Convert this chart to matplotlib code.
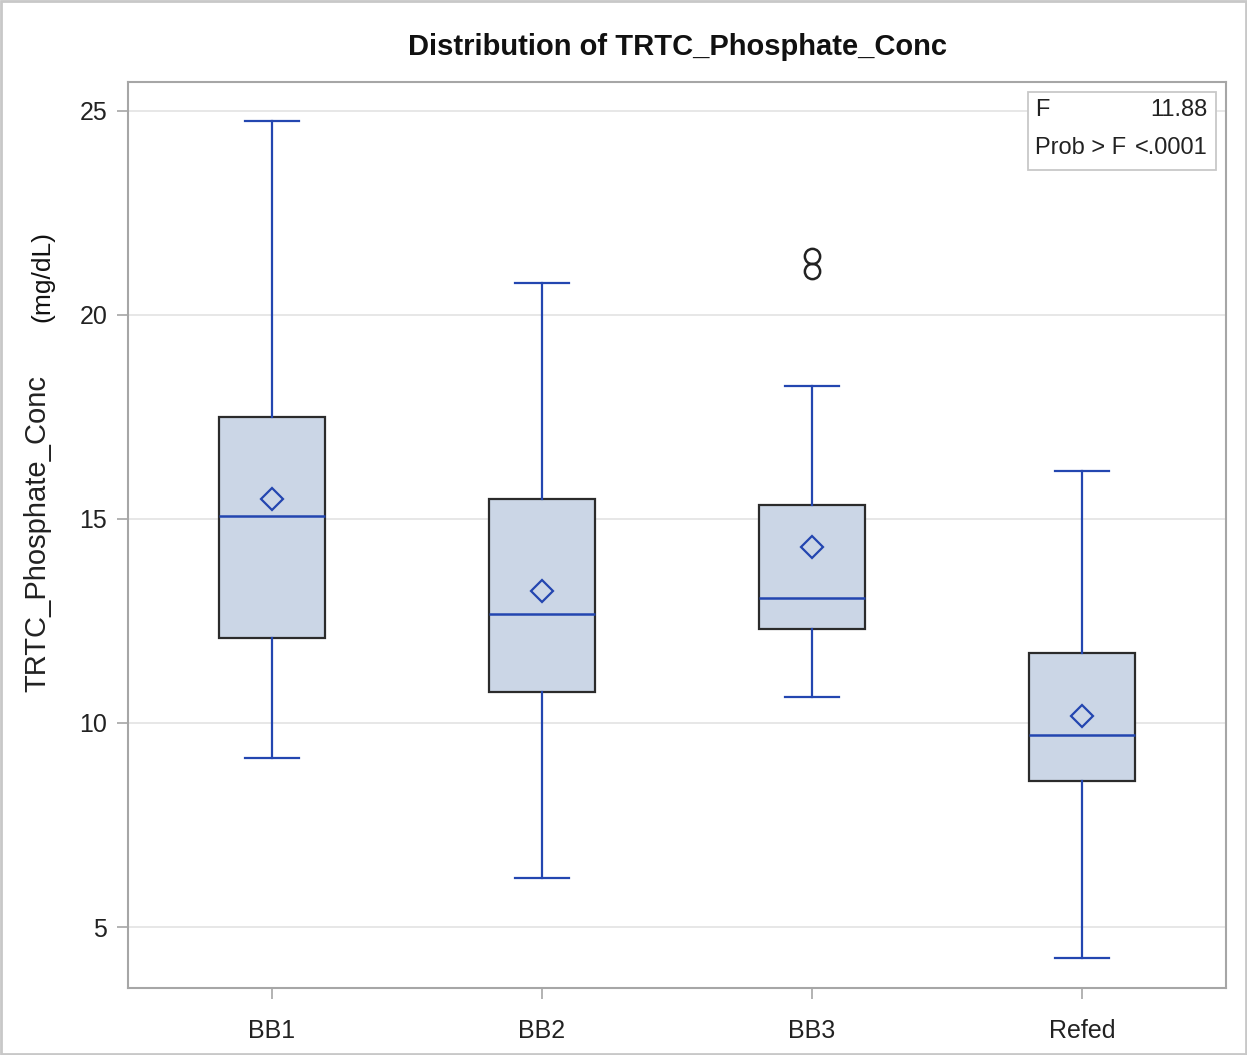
import matplotlib
matplotlib.use("Agg")
import matplotlib.pyplot as plt
from matplotlib.patches import Rectangle

categories = ["BB1", "BB2", "BB3", "Refed"]
whisker_low = [9.14, 6.20, 10.64, 4.24]
q1 = [12.08, 10.76, 12.30, 8.58]
median = [15.07, 12.67, 13.06, 9.71]
q3 = [17.50, 15.49, 15.34, 11.72]
whisker_high = [24.76, 20.78, 18.26, 16.18]
means = [15.49, 13.24, 14.31, 10.17]
outliers = [[], [], [21.08, 21.45], []]
yticks = [5, 10, 15, 20, 25]
f_value = "11.88"
p_value = "<.0001"

FONT = ["Liberation Sans Narrow", "Liberation Sans", "DejaVu Sans"]
plt.rcParams["font.family"] = FONT

fig = plt.figure(figsize=(12.47, 10.55), dpi=100)
ax = fig.add_axes([128/1247, 1-988/1055, (1226-128)/1247, (988-82)/1055])

stats = []
for i, c in enumerate(categories):
    stats.append(dict(label=c, whislo=whisker_low[i], q1=q1[i], med=median[i],
                      q3=q3[i], whishi=whisker_high[i], mean=means[i], fliers=outliers[i]))

blue = "#2346b0"
ax.bxp(stats, positions=range(len(categories)), widths=0.39, patch_artist=True,
       showmeans=True, showfliers=True,
       boxprops=dict(facecolor="#cbd6e6", edgecolor="#2b2b2b", linewidth=1.6),
       medianprops=dict(color=blue, linewidth=1.8),
       whiskerprops=dict(color=blue, linewidth=1.6),
       capprops=dict(color=blue, linewidth=1.6),
       capwidths=0.2,
       meanprops=dict(marker="D", markersize=11, markerfacecolor="none",
                      markeredgecolor=blue, markeredgewidth=1.6),
       flierprops=dict(marker="o", markersize=11, markerfacecolor="none",
                       markeredgecolor="#222222", markeredgewidth=1.8))

ax.set_xlim(-0.533, 3.533)
ax.set_ylim(3.505, 25.71)
ax.set_yticks(yticks)
ax.set_yticklabels([str(t) for t in yticks])
ax.set_xticks(range(len(categories)))
ax.set_xticklabels(categories)
ax.yaxis.grid(True, color="#e3e3e3", linewidth=1.2)
ax.set_axisbelow(True)
for s in ax.spines.values():
    s.set_color("#a6a6a6")
    s.set_linewidth(1.5)
ax.tick_params(axis="both", colors="#a6a6a6", length=8, width=1.2, labelsize=18,
               labelcolor="#222222")
ax.tick_params(axis="x", pad=14)
ax.tick_params(axis="y", pad=7)

fig.text(677/1247, 1-47/1055, "Distribution of TRTC_Phosphate_Conc", ha="center", va="center",
         fontsize=21, fontweight="bold", color="#111111")
fig.text(37/1247, 1-533/1055, "TRTC_Phosphate_Conc", rotation=90, ha="center", va="center",
         fontsize=21, color="#222222")
fig.text(42/1247, 1-277/1055, "(mg/dL)", rotation=90, ha="center", va="center",
         fontsize=19, color="#111111", family=["Liberation Sans", "DejaVu Sans"])

# inset stats box
x0, y0, x1, y1 = 1028/1247, 1-170/1055, 1216/1247, 1-92/1055
fig.patches.append(Rectangle((x0, y0), x1-x0, y1-y0, transform=fig.transFigure,
                             facecolor="white", edgecolor="#c8c8c8", linewidth=1.3, zorder=5))
fig.text(1035/1247, 1-110/1055, "F", ha="left", va="center", fontsize=17, color="#222222", zorder=6)
fig.text(1208/1247, 1-110/1055, f_value, ha="right", va="center", fontsize=17, color="#222222", zorder=6)
fig.text(1035/1247, 1-148/1055, "Prob > F", ha="left", va="center", fontsize=17, color="#222222", zorder=6)
fig.text(1208/1247, 1-148/1055, p_value, ha="right", va="center", fontsize=17, color="#222222", zorder=6)

# outer figure border
fig.patches.append(Rectangle((0.001, 0.001), 0.998, 0.998, transform=fig.transFigure,
                             facecolor="none", edgecolor="#c8c8c8", linewidth=2))

fig.savefig("out.png", dpi=100)
